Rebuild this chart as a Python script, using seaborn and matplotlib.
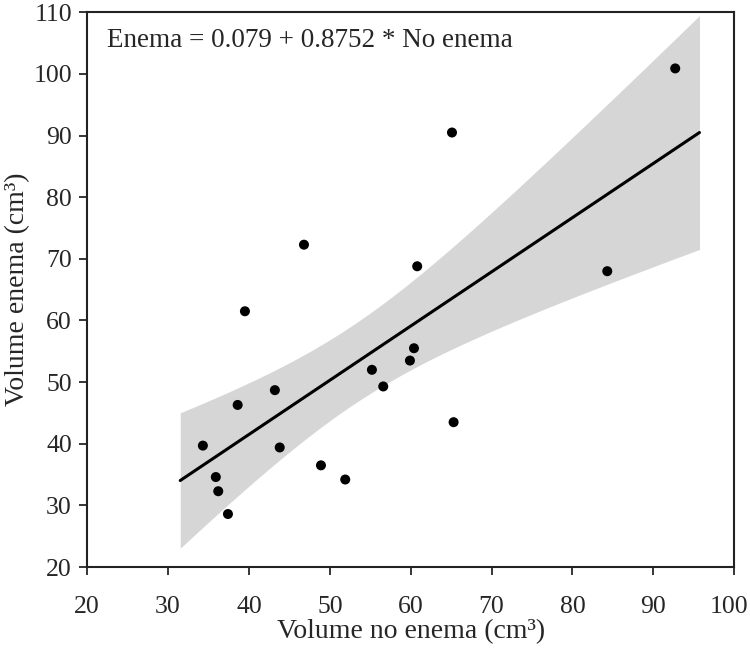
import numpy as np
import pandas as pd
import matplotlib
matplotlib.use("Agg")
import matplotlib.pyplot as plt
import matplotlib.transforms as mtransforms
import seaborn as sns

# values
no_enema = [34.3, 35.9, 36.2, 37.4, 38.6, 39.5, 43.2, 43.8, 46.8, 48.9,
            51.9, 55.2, 56.6, 59.9, 60.4, 60.8, 65.1, 65.3, 84.3, 92.7]
enema = [39.7, 34.6, 32.3, 28.6, 46.3, 61.5, 48.7, 39.4, 72.3, 36.5,
         34.2, 52.0, 49.3, 53.5, 55.5, 68.8, 90.5, 43.5, 68.0, 100.9]
x_ticks = [20, 30, 40, 50, 60, 70, 80, 90, 100]
y_ticks = [20, 30, 40, 50, 60, 70, 80, 90, 100, 110]
fit_range = (31.5, 95.7)
equation = "Enema = 0.079 + 0.8752 * No enema"

data = pd.DataFrame({"no_enema": no_enema, "enema": enema})

sns.set_style("ticks")
plt.rcParams["font.family"] = ["Liberation Serif", "DejaVu Serif"]

fig = plt.figure(figsize=(7.5, 6.49), dpi=100)
ax = fig.add_axes([0.1163, 0.1263, 0.8627, 0.8547])

# ordinary least squares fit with a 95% t-based confidence band
x = np.array(no_enema)
y = np.array(enema)
n = len(x)
slope, intercept = np.polyfit(x, y, 1)
resid = y - (intercept + slope * x)
s = np.sqrt(np.sum(resid ** 2) / (n - 2))
sxx = np.sum((x - x.mean()) ** 2)
t_crit = 2.101  # t(0.975, df=18)
grid = np.linspace(fit_range[0], fit_range[1], 200)
fit = intercept + slope * grid
half = t_crit * s * np.sqrt(1 / n + (grid - x.mean()) ** 2 / sxx)
ax.fill_between(grid, fit - half, fit + half, color="#d6d6d6",
                linewidth=0, zorder=1)

ax.set_xlim(*fit_range)
sns.regplot(data=data, x="no_enema", y="enema", ax=ax, scatter=False,
            truncate=False, ci=None,
            line_kws={"color": "black", "linewidth": 2.2, "zorder": 2})

sns.scatterplot(data=data, x="no_enema", y="enema", ax=ax, color="black",
                s=52, edgecolor="none", zorder=3)

ax.set_xlim(20, 100)
ax.set_ylim(20, 110)
ax.set_xticks(x_ticks)
ax.set_yticks(y_ticks)
ax.tick_params(labelsize=18.5, length=6, width=1.3, direction="out", pad=5)
ax.tick_params(axis="x", pad=15)
for sp in ax.spines.values():
    sp.set_visible(True)
    sp.set_linewidth(1.5)
    sp.set_color("#222222")

# nudge the last x tick label so it stays inside the picture
last = ax.get_xticklabels()[-1]
last.set_transform(last.get_transform() +
                   mtransforms.ScaledTranslation(-4 / 72, 0, fig.dpi_scale_trans))

ax.set_xlabel("Volume no enema (cm³)", fontsize=20, labelpad=1)
ax.set_ylabel("Volume enema (cm³)", fontsize=20, labelpad=2)
ax.text(0.03, 0.95, equation, transform=ax.transAxes, fontsize=19.5,
        ha="left", va="center")

fig.savefig("out.png", dpi=100)
